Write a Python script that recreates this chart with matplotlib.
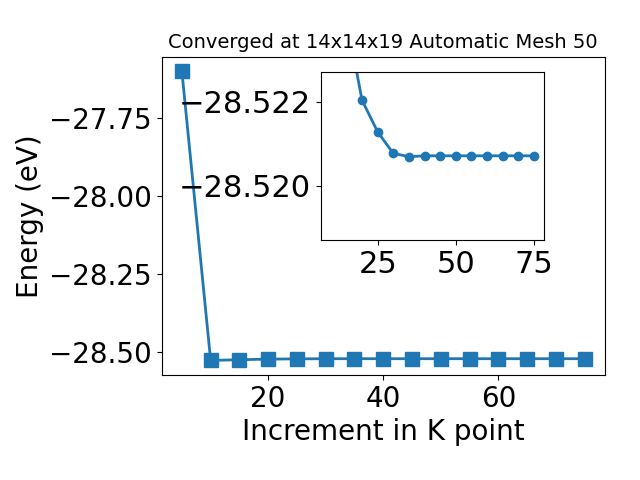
import matplotlib
matplotlib.use("Agg")
import matplotlib.pyplot as plt

kpoints = [5, 10, 15, 20, 25, 30, 35, 40, 45, 50, 55, 60, 65, 70, 75]
energy = [-27.599, -28.5262, -28.5240, -28.52204, -28.52128, -28.52077,
          -28.52069, -28.52071, -28.52071, -28.52071, -28.52071, -28.52071,
          -28.52071, -28.52071, -28.52071]

title = "Converged at 14x14x19 Automatic Mesh 50"
xlabel = "Increment in K point"
ylabel = "Energy (eV)"

fig = plt.figure(figsize=(6.4, 4.8), dpi=100)
ax = fig.add_axes([0.2527, 0.219, 0.945 - 0.2527, 0.882 - 0.219])
ax.plot(kpoints, energy, marker='s', markersize=10, linewidth=2, color='#1f77b4')
ax.set_title(title, fontsize=14)
ax.set_xlabel(xlabel, fontsize=20)
ax.set_ylabel(ylabel, fontsize=20)
ax.tick_params(labelsize=20)
ax.set_xticks([20, 40, 60])
ax.set_yticks([-27.75, -28.0, -28.25, -28.5])

ins = fig.add_axes([0.501, 0.5, 0.349, 0.349])
ins.plot(kpoints[1:], energy[1:], marker='o', markersize=6, linewidth=2, color='#1f77b4')
ins.set_ylim(-28.5187, -28.5227)
ins.set_yticks([-28.522, -28.520])
ins.set_xticks([25, 50, 75])
ins.tick_params(labelsize=22)

fig.savefig("out.png", dpi=100)
